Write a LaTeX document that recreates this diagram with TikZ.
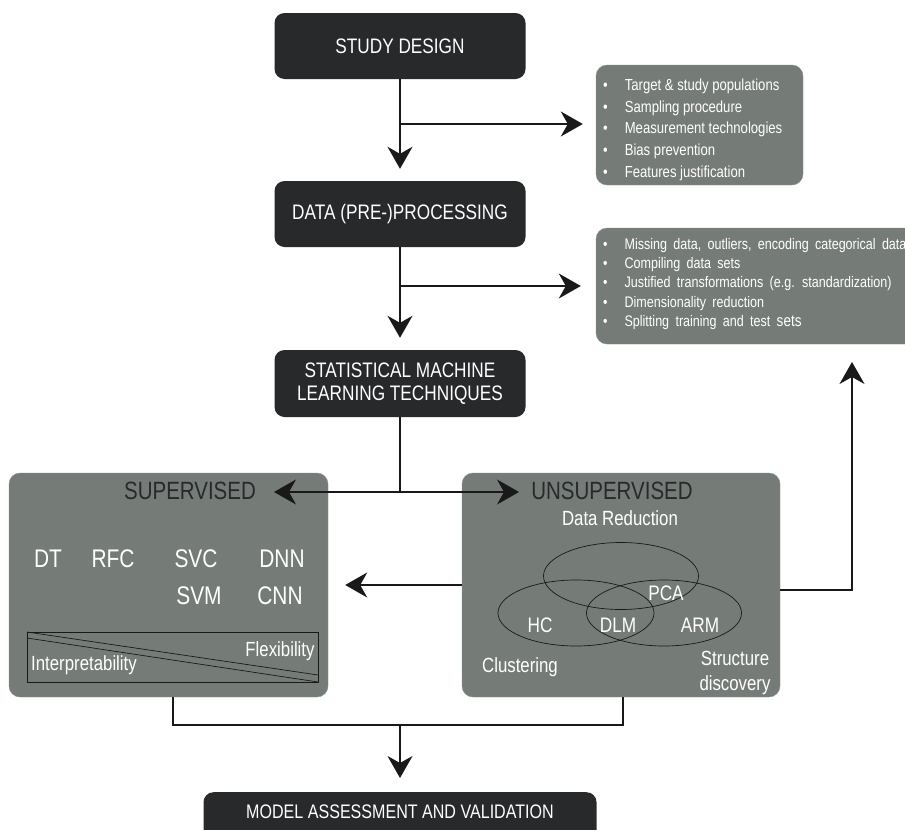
\documentclass[tikz,border=0pt]{standalone}
\usepackage{fontspec}
\setmainfont{Liberation Sans}[FakeStretch=0.82]
\usetikzlibrary{arrows.meta}
\definecolor{boxdark}{RGB}{40,41,43}
\definecolor{boxgray}{RGB}{117,124,120}
\definecolor{linec}{RGB}{25,25,25}
\newcommand{\mywidesp}{\spaceskip=6.3pt plus 1pt\relax}
\tikzset{
  darkbox/.style={fill=boxdark, rounded corners=10pt, text=white, align=center, inner sep=0pt, font=\fontsize{21}{23}\selectfont},
  graybox/.style={fill=boxgray, draw=boxgray!85!white, rounded corners=11pt, inner sep=0pt},
  wtext/.style={text=white, inner sep=0pt},
  conn/.style={draw=linec, line width=1.1pt},
  arr/.style={conn, -{Stealth[length=22pt,width=25pt,inset=7pt]}},
}
\begin{document}
\begin{tikzpicture}[x=1pt,y=-1pt]
\useasboundingbox (0,0) rectangle (905,830);
\clip (0,0) rectangle (905,830);
% main dark boxes
\node[darkbox, minimum width=251, minimum height=66] (sd) at (400,46) {STUDY DESIGN};
\node[darkbox, minimum width=251, minimum height=66] (dp) at (400,214) {DATA (PRE-)PROCESSING};
\node[darkbox, minimum width=251, minimum height=67] (st) at (400,383.5) {STATISTICAL MACHINE\\LEARNING TECHNIQUES};
\node[darkbox, minimum width=393, minimum height=58, anchor=north] (mo) at (400,792) {};
\node[wtext, font=\fontsize{19.6}{21}\selectfont] (mot) at (400,812) {MODEL ASSESSMENT AND VALIDATION};
% gray list boxes
\node[graybox, minimum width=207, minimum height=120] (g1) at (699.5,125) {};
\node[wtext, anchor=north west, align=left, font=\fontsize{16}{21.6}\selectfont] (g1t) at (603,79) {%
\textbullet\hspace{17pt}Target \& study populations\\
\textbullet\hspace{17pt}Sampling procedure\\
\textbullet\hspace{17pt}Measurement technologies\\
\textbullet\hspace{17pt}Bias prevention\\
\textbullet\hspace{17pt}Features justification};
\node[graybox, minimum width=329, minimum height=116] (g2) at (760.5,286) {};
\node[wtext, anchor=north west, align=left, font=\fontsize{15.3}{19.3}\selectfont\mywidesp] (g2t) at (603,238) {%
\textbullet\hspace{17pt}Missing data, outliers, encoding categorical data\\
\textbullet\hspace{17pt}Compiling data sets\\
\textbullet\hspace{17pt}Justified transformations (e.g. standardization)\\
\textbullet\hspace{17pt}Dimensionality reduction\\
\textbullet\hspace{17pt}Splitting training and test {\fontsize{16.5}{18}\selectfont sets}};
% supervised box
\node[graybox, minimum width=319, minimum height=224] (su) at (168.5,585) {};
\node[inner sep=0pt, text=boxdark, font=\fontsize{25}{27}\selectfont] (sut) at (190,491) {SUPERVISED};
\begin{scope}[every node/.style={wtext, font=\fontsize{25.5}{27}\selectfont}]
\node (dt) at (48,559) {DT};
\node (rfc) at (113,559) {RFC};
\node (svc) at (196,559) {SVC};
\node (dnn) at (282,559) {DNN};
\node (svm) at (199,596) {SVM};
\node (cnn) at (280,596) {CNN};
\end{scope}
\draw[draw=linec, line width=0.7pt] (27,632) rectangle (318,682);
\draw[draw=linec, line width=0.7pt] (27,632) -- (318,675);
\draw[draw=linec, line width=0.7pt] (27,638) -- (318,682);
\node[wtext, font=\fontsize{20.5}{22}\selectfont] (flex) at (280,651) {Flexibility};
\node[wtext, font=\fontsize{20.5}{22}\selectfont] (interp) at (84,665) {Interpretability};
% unsupervised box
\node[graybox, minimum width=318, minimum height=224] (un) at (621,585) {};
\node[inner sep=0pt, text=boxdark, font=\fontsize{25}{27}\selectfont] (unt) at (612,491) {UNSUPERVISED};
\node[wtext, font=\fontsize{20.5}{22}\selectfont] (dr) at (620,518) {Data Reduction};
\draw[draw=linec, line width=0.7pt] (621,576) ellipse [x radius=77.5, y radius=33.5];
\draw[draw=linec, line width=0.7pt] (576,613) ellipse [x radius=78, y radius=33];
\draw[draw=linec, line width=0.7pt] (664,613) ellipse [x radius=77.5, y radius=33];
\begin{scope}[every node/.style={wtext, font=\fontsize{21}{23}\selectfont}]
\node (pca) at (666,593) {PCA};
\node (hc) at (540,625) {HC};
\node (dlm) at (618,625) {DLM};
\node (arm) at (700,625) {ARM};
\end{scope}
\node[wtext, font=\fontsize{20.5}{22}\selectfont] (clu) at (520,667) {Clustering};
\node[wtext, font=\fontsize{20.5}{25}\selectfont, align=center] (sdisc) at (735,673) {Structure\\discovery};
% connectors
\coordinate (b1) at (400,124);
\coordinate (b2) at (400,286);
\draw[arr, shorten >=12pt] (sd) -- (dp);
\draw[arr, shorten >=13pt] (b1) -- (b1 -| g1.west);
\draw[arr, shorten >=12pt] (dp) -- (st);
\draw[arr, shorten >=15pt] (b2) -- (b2 -| g2.west);
\coordinate (j) at (400,492);
\coordinate (jl) at (274,492);
\coordinate (jr) at (519,492);
\draw[conn] (st) -- (j);
\draw[arr] (j) -- (jl);
\draw[arr] (j) -- (jr);
\draw[arr, shorten >=17pt] (un.west) -- (su.east);
\coordinate (ue) at (780,590);
\coordinate (fb) at (852,362);
\draw[arr] (ue) -| (fb);
\coordinate (sb) at (173,697);
\coordinate (ub) at (623,697);
\coordinate (mj) at (400,725);
\draw[conn] (sb) |- (mj) -| (ub);
\draw[arr, shorten >=14pt] (mj) -- (mo.north);
\end{tikzpicture}
\end{document}
